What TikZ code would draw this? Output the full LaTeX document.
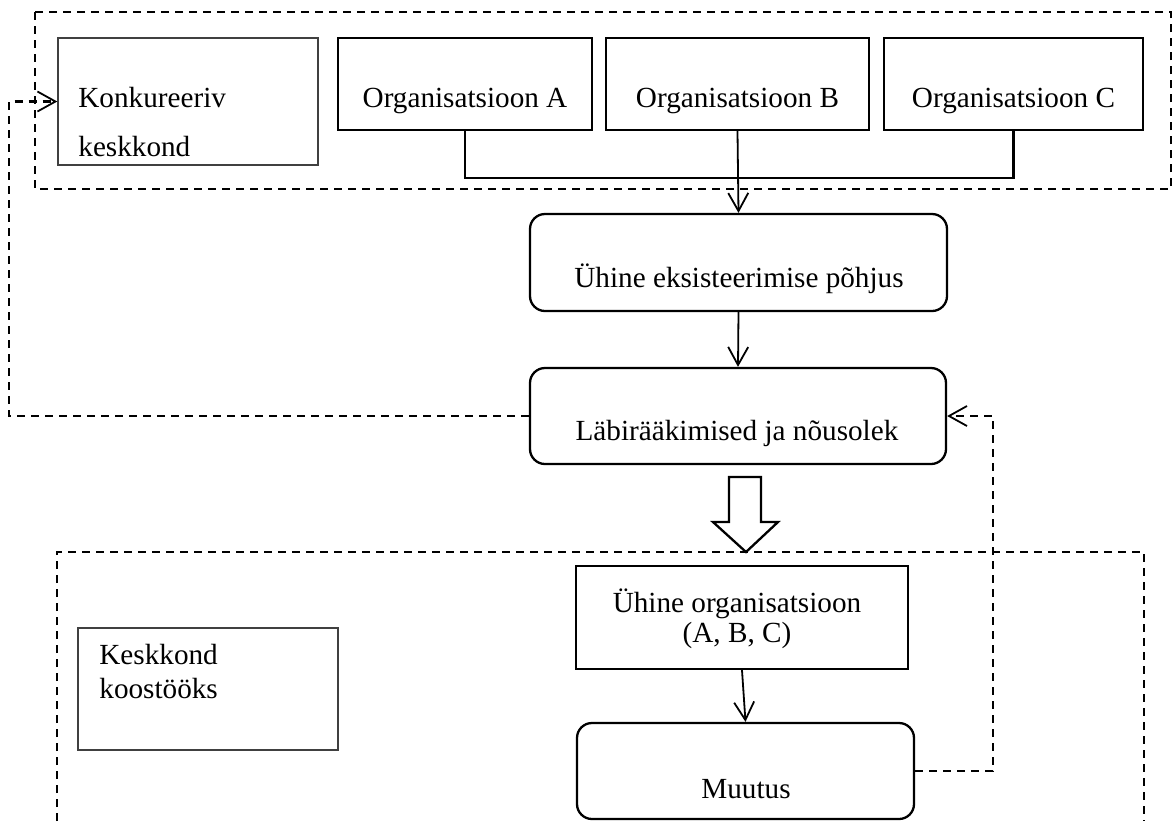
\documentclass[tikz,border=0pt]{standalone}
\usepackage{fontspec}
\setmainfont{Liberation Serif}
\usetikzlibrary{arrows.meta}
\begin{document}
\begin{tikzpicture}[x=0.5pt,y=-0.5pt,
  boxstyle/.style={draw=black,line width=1.15pt,rectangle,inner sep=0pt},
  thinbox/.style={draw=black!75,line width=0.7pt,rectangle,inner sep=0pt},
  roundbox/.style={boxstyle,rounded corners=7.5pt},
  txt/.style={inner sep=0pt,anchor=base,font=\fontsize{14.6}{15}\selectfont},
  ltxt/.style={txt,anchor=base west},
  arr/.style={line width=0.9pt,-{Straight Barb[length=9pt,width=10pt,line width=0.9pt]}},
  dashline/.style={line width=1.2pt,dash pattern=on 4pt off 3pt},
  grp/.style={line width=1.2pt,dash pattern=on 4pt off 3pt}
]
\useasboundingbox (0,0) rectangle (1174,821);
\fill[white] (0,0) rectangle (1174,821);

% group frames
\draw[grp] (35,12) rectangle (1171,189);
\draw[grp] (57,821) -- (57,552) -- (1144,552) -- (1144,821);

% boxes
\node[thinbox,minimum width=130pt,minimum height=63.5pt] (konk) at (188,101.5) {};
\node[boxstyle,minimum width=127pt,minimum height=46pt] (orgA) at (465,84) {};
\node[boxstyle,minimum width=131.5pt,minimum height=46pt] (orgB) at (737.5,84) {};
\node[boxstyle,minimum width=129.5pt,minimum height=46pt] (orgC) at (1013.5,84) {};
\node[roundbox,minimum width=208.5pt,minimum height=48.5pt] (yh1) at (738.5,262.5) {};
\node[roundbox,minimum width=208pt,minimum height=48pt] (labi) at (738,416) {};
\node[boxstyle,minimum width=166pt,minimum height=51.5pt] (yorg) at (742,617.5) {};
\node[roundbox,minimum width=168.5pt,minimum height=48pt] (muut) at (745.5,771) {};
\node[thinbox,minimum width=130pt,minimum height=61pt] (kesk) at (208,689) {};

% texts
\node[ltxt] (tkonk1) at (78,107) {Konkureeriv};
\begin{scope}
\clip (58,120) rectangle (318,156.5);
\node[ltxt] (tkonk2) at (78,156) {keskkond};
\end{scope}
\node[txt] (tA) at (465,107) {Organisatsioon A};
\node[txt] (tB) at (737.5,107) {Organisatsioon B};
\node[txt] (tC) at (1013.5,107) {Organisatsioon C};
\node[txt] (tyh1) at (739,287) {Ühine eksisteerimise põhjus};
\node[txt] (tlabi) at (737,440) {Läbirääkimised ja nõusolek};
\node[txt] (tyorg1) at (737,612) {Ühine organisatsioon};
\node[txt] (tyorg2) at (737,642) {(A, B, C)};
\node[txt] (tmuut) at (746,798) {Muutus};
\node[ltxt] (tkesk1) at (99,664) {Keskkond};
\node[ltxt] (tkesk2) at (99,698) {koostööks};

% connectors
\coordinate (jA) at (465,178);
\coordinate (jC) at (1013.5,178);
\draw[line width=1.1pt] (orgA.south) -- (jA) -- (jC) -- (orgC.south);
\draw[arr] (orgB.south) -- (yh1.north);
\draw[arr] (yh1.south) -- (labi.north);
\draw[arr] (yorg.south) -- (muut.north);

\coordinate (fbL) at (9,416);
\draw[dashline,-{Straight Barb[length=9pt,width=10pt,line width=0.9pt]}] (labi.west) -- (fbL) |- (konk.west);
\coordinate (fbR) at (993,771);
\draw[dashline,-{Straight Barb[length=9pt,width=10pt,line width=0.9pt]}] (muut.east) -- (fbR) |- (labi.east);

% hollow block arrow
\draw[line width=1.15pt,fill=white,line join=miter]
  (729,477) -- (761,477) -- (761,522) -- (778,522) -- (746,552) -- (713,522) -- (729,522) -- cycle;
\end{tikzpicture}
\end{document}
